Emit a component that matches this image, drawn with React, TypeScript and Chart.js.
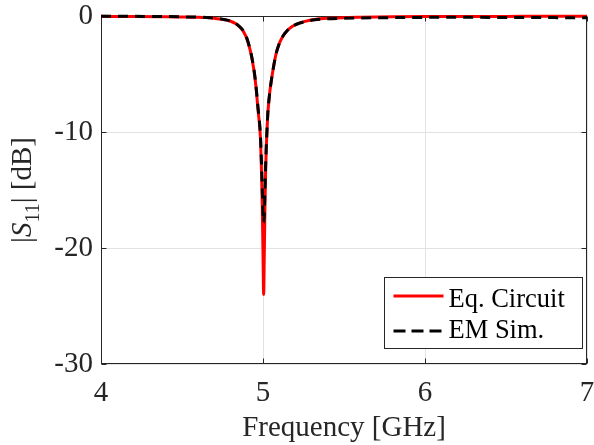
import { useEffect, useRef } from "react";
import { Chart, registerables } from "chart.js";
Chart.register(...registerables);

const freqGHz = [
  4.0, 4.2, 4.4, 4.5, 4.6, 4.65, 4.7, 4.75, 4.8, 4.83,
  4.845, 4.86, 4.87, 4.88, 4.9, 4.92, 4.935, 4.95, 4.96, 4.97,
  4.98, 4.985, 4.99, 4.995, 5.0, 5.004, 5.008, 5.012, 5.016, 5.02,
  5.025, 5.03, 5.04, 5.05, 5.06, 5.08, 5.1, 5.12, 5.15, 5.18,
  5.22, 5.26, 5.32, 5.4, 5.5, 5.6, 5.8, 6.0, 6.2, 6.4,
  6.6, 6.8, 7.0,
];

const eqCircuitDb = [
  -0.03, -0.04, -0.06, -0.08, -0.11, -0.14, -0.2, -0.29, -0.45, -0.65,
  -0.8, -1.0, -1.15, -1.35, -1.95, -2.9, -3.9, -5.3, -6.6, -8.2,
  -9.6, -10.8, -13.0, -16.0, -20.5, -24.0, -20.5, -16.5, -13.5, -11.5,
  -9.8, -8.4, -6.8, -5.7, -4.8, -3.3, -2.4, -1.8, -1.25, -0.9,
  -0.63, -0.46, -0.3, -0.2, -0.14, -0.11, -0.07, -0.05, -0.04, -0.04,
  -0.03, -0.03, -0.03,
];

const emSimDb = [
  -0.02, -0.03, -0.05, -0.07, -0.1, -0.13, -0.19, -0.28, -0.43, -0.63,
  -0.78, -0.97, -1.12, -1.3, -1.9, -2.85, -3.85, -5.2, -6.5, -8.0,
  -9.4, -10.5, -12.4, -14.6, -17.0, -17.8, -17.0, -15.0, -13.0, -11.3,
  -9.7, -8.3, -6.8, -5.7, -4.8, -3.3, -2.4, -1.8, -1.25, -0.9,
  -0.64, -0.48, -0.33, -0.24, -0.19, -0.17, -0.14, -0.12, -0.11, -0.12,
  -0.13, -0.14, -0.15,
];

const xTicks = [4, 5, 6, 7];
const yTicks = [0, -10, -20, -30];
const seriesLabels = ["Eq. Circuit", "EM Sim."];
const xTitle = "Frequency [GHz]";

const FONT = "'Liberation Serif', 'Times New Roman', serif";

const zeroPad = (s: any) => {
  s.paddingTop = 0;
  s.paddingBottom = 0;
  s.paddingLeft = 0;
  s.paddingRight = 0;
};

const decor = {
  id: "decor",
  beforeDatasetsDraw(chart: any) {
    const { ctx, chartArea: a, scales } = chart;
    ctx.save();
    ctx.strokeStyle = "#262626";
    ctx.lineWidth = 1;
    const L = Math.round(a.left) + 0.5;
    const R = Math.round(a.right) - 0.5;
    const T = Math.round(a.top) + 0.5;
    const B = Math.round(a.bottom) - 0.5;
    ctx.strokeRect(L, T, R - L, B - T);
    ctx.beginPath();
    for (const v of xTicks) {
      const px = Math.round(scales.x.getPixelForValue(v)) + 0.5;
      ctx.moveTo(px, B); ctx.lineTo(px, B - 5);
      ctx.moveTo(px, T); ctx.lineTo(px, T + 5);
    }
    for (const v of yTicks) {
      const py = Math.round(scales.y.getPixelForValue(v)) + 0.5;
      ctx.moveTo(L, py); ctx.lineTo(L + 5, py);
      ctx.moveTo(R, py); ctx.lineTo(R - 5, py);
    }
    ctx.stroke();
    ctx.restore();
  },
  afterDatasetsDraw(chart: any) {
    const { ctx, chartArea: a } = chart;
    ctx.save();
    const bw = 198, bh = 71;
    const bx = Math.round(a.right - 5 - bw) + 0.5;
    const by = Math.round(a.bottom - 16 - bh) + 0.5;
    ctx.fillStyle = "#ffffff";
    ctx.fillRect(bx, by, bw, bh);
    ctx.strokeStyle = "#262626";
    ctx.lineWidth = 1;
    ctx.strokeRect(bx, by, bw, bh);
    const colors = ["#ff0000", "#000000"];
    const dashes = [[], [12, 6]];
    const rowsY = [by + 18.5, by + 53.5];
    const textY = [by + 29.5, by + 60];
    ctx.font = `26.5px ${FONT}`;
    ctx.textBaseline = "alphabetic";
    ctx.textAlign = "left";
    for (let i = 0; i < 2; i++) {
      ctx.beginPath();
      ctx.setLineDash(dashes[i]);
      ctx.strokeStyle = colors[i];
      ctx.lineWidth = 3;
      ctx.moveTo(bx + 9, rowsY[i]);
      ctx.lineTo(bx + 59, rowsY[i]);
      ctx.stroke();
      ctx.setLineDash([]);
      ctx.fillStyle = "#000000";
      ctx.fillText(seriesLabels[i], bx + 64, textY[i]);
    }
    ctx.restore();
  },
  afterDraw(chart: any) {
    const { ctx, chartArea: a } = chart;
    ctx.save();
    ctx.fillStyle = "#262626";
    ctx.font = `29px ${FONT}`;
    ctx.textAlign = "center";
    ctx.textBaseline = "alphabetic";
    ctx.fillText(xTitle, (a.left + a.right) / 2, 436);
    const cy = (a.top + a.bottom) / 2;
    ctx.translate(31, cy);
    ctx.rotate(-Math.PI / 2);
    ctx.textAlign = "left";
    const nf = `29px ${FONT}`;
    const itf = `italic 29px ${FONT}`;
    const sf = `20px ${FONT}`;
    const parts = [
      { t: "|", f: nf, dy: 0 },
      { t: "S", f: itf, dy: 0 },
      { t: "11", f: sf, dy: 8 },
      { t: "| [dB]", f: nf, dy: 0 },
    ];
    let total = 0;
    for (const p of parts) { ctx.font = p.f; total += ctx.measureText(p.t).width; }
    let x = -total / 2;
    for (const p of parts) {
      ctx.font = p.f;
      ctx.fillText(p.t, x, p.dy);
      x += ctx.measureText(p.t).width;
    }
    ctx.restore();
  },
};

export default function App() {
  const ref = useRef<HTMLCanvasElement>(null);
  useEffect(() => {
    document.body.style.margin = "0";
    const canvas = ref.current!;
    const chart = new Chart(canvas, {
      type: "line",
      data: {
        datasets: [
          {
            label: seriesLabels[0],
            data: freqGHz.map((f, i) => ({ x: f, y: eqCircuitDb[i] })),
            borderColor: "#ff0000",
            borderWidth: 3,
            pointRadius: 0,
            cubicInterpolationMode: "monotone",
            clip: false,
            order: 2,
          },
          {
            label: seriesLabels[1],
            data: freqGHz.map((f, i) => ({ x: f, y: emSimDb[i] })),
            borderColor: "#000000",
            borderWidth: 3,
            borderDash: [10, 7],
            pointRadius: 0,
            cubicInterpolationMode: "monotone",
            clip: false,
            order: 1,
          },
        ],
      },
      options: {
        responsive: false,
        animation: false,
        events: [],
        layout: { padding: { left: 0, right: 7, top: 16, bottom: 0 } },
        plugins: { legend: { display: false }, tooltip: { enabled: false } },
        scales: {
          x: {
            type: "linear",
            min: 4,
            max: 7,
            afterBuildTicks: (s: any) => { s.ticks = xTicks.map((v) => ({ value: v })); },
            afterFit: (s: any) => { s.height = 81; zeroPad(s); },
            grid: { color: "#e2e2e2", lineWidth: 1, drawTicks: false },
            border: { display: false },
            ticks: { color: "#262626", font: { family: FONT, size: 29 }, padding: 12, maxRotation: 0 },
          },
          y: {
            type: "linear",
            min: -30,
            max: 0,
            afterBuildTicks: (s: any) => { s.ticks = yTicks.map((v) => ({ value: v })); },
            afterFit: (s: any) => { s.width = 101; zeroPad(s); },
            grid: { color: "#e2e2e2", lineWidth: 1, drawTicks: false },
            border: { display: false },
            ticks: { color: "#262626", font: { family: FONT, size: 29 }, padding: 8 },
          },
        },
      },
      plugins: [decor],
    } as any);
    return () => chart.destroy();
  }, []);
  return (
    <div style={{ position: "absolute", left: 0, top: 0 }}>
      <canvas ref={ref} width={594} height={445} style={{ display: "block" }} />
    </div>
  );
}
